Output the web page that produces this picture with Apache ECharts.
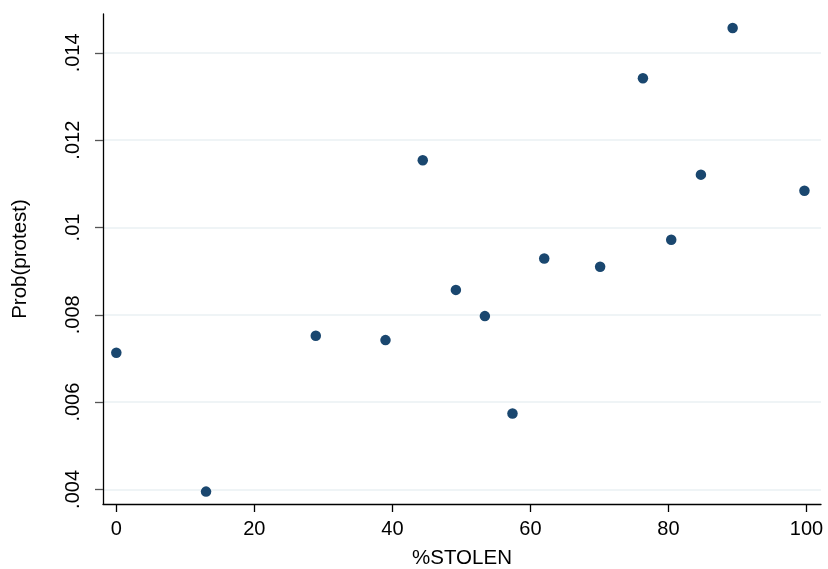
<!DOCTYPE html>
<html>
<head>
<meta charset="utf-8">
<script src="https://cdn.jsdelivr.net/npm/echarts@6/dist/echarts.min.js"></script>
<style>html,body{margin:0;padding:0;background:#fff;}#c{width:828px;height:569px;}</style>
</head>
<body>
<div id="c"></div>
<script>
var stolen = [0, 13.0, 28.9, 39.0, 44.4, 49.2, 53.4, 57.4, 62.0, 70.1, 76.3, 80.4, 84.7, 89.3, 99.7];
var probProtest = [0.00713, 0.00395, 0.00752, 0.00742, 0.01154, 0.00857, 0.00797, 0.00574, 0.00929, 0.00910, 0.01342, 0.00972, 0.01121, 0.01457, 0.01084];
var xTicks = [0, 20, 40, 60, 80, 100];
var yTicks = [0.004, 0.006, 0.008, 0.010, 0.012, 0.014];
var xTitle = '%STOLEN';
var yTitle = 'Prob(protest)';

var pts = stolen.map(function (x, i) { return [x, probProtest[i]]; });
var font = 'Liberation Sans, Arial, sans-serif';
function fmtY(v) {
  var s = (+v).toFixed(3).replace(/0+$/, '');
  return s.replace(/^0/, '');
}
var chart = echarts.init(document.getElementById('c'));
chart.setOption({
  animation: false,
  backgroundColor: '#fff',
  grid: { left: 103, top: 14, width: 718, height: 490, containLabel: false, outerBoundsMode: 'none' },
  xAxis: {
    type: 'value', min: -1.93, max: 102.1,
    name: xTitle, nameLocation: 'middle', nameGap: 44,
    nameTextStyle: { fontFamily: font, fontSize: 20.5, color: '#000' },
    axisLine: { show: true, onZero: false, lineStyle: { color: '#000', width: 1.3 } },
    axisTick: { show: true, length: 8, customValues: xTicks, lineStyle: { color: '#000', width: 1.3 } },
    axisLabel: { customValues: xTicks, fontFamily: font, fontSize: 20, color: '#000', margin: 15 },
    splitLine: { show: false }
  },
  yAxis: {
    type: 'value', min: 0.003666, max: 0.01489,
    name: yTitle, nameLocation: 'middle', nameGap: 72, nameRotate: 90,
    nameTextStyle: { fontFamily: font, fontSize: 20.5, color: '#000' },
    axisLine: { show: true, onZero: false, lineStyle: { color: '#000', width: 1.3 } },
    axisTick: { show: true, length: 8, customValues: yTicks, lineStyle: { color: '#555', width: 1.3 } },
    axisLabel: { customValues: yTicks, rotate: 90, formatter: fmtY, fontFamily: font, fontSize: 20, color: '#000', margin: 20 },
    splitLine: { show: true, lineStyle: { color: '#eaf0f3', width: 1.5 } }
  },
  series: [{
    type: 'scatter',
    data: pts,
    symbol: 'circle',
    symbolSize: 10.5,
    itemStyle: { color: '#1a476f', opacity: 1 }
  }]
});
</script>
</body>
</html>
